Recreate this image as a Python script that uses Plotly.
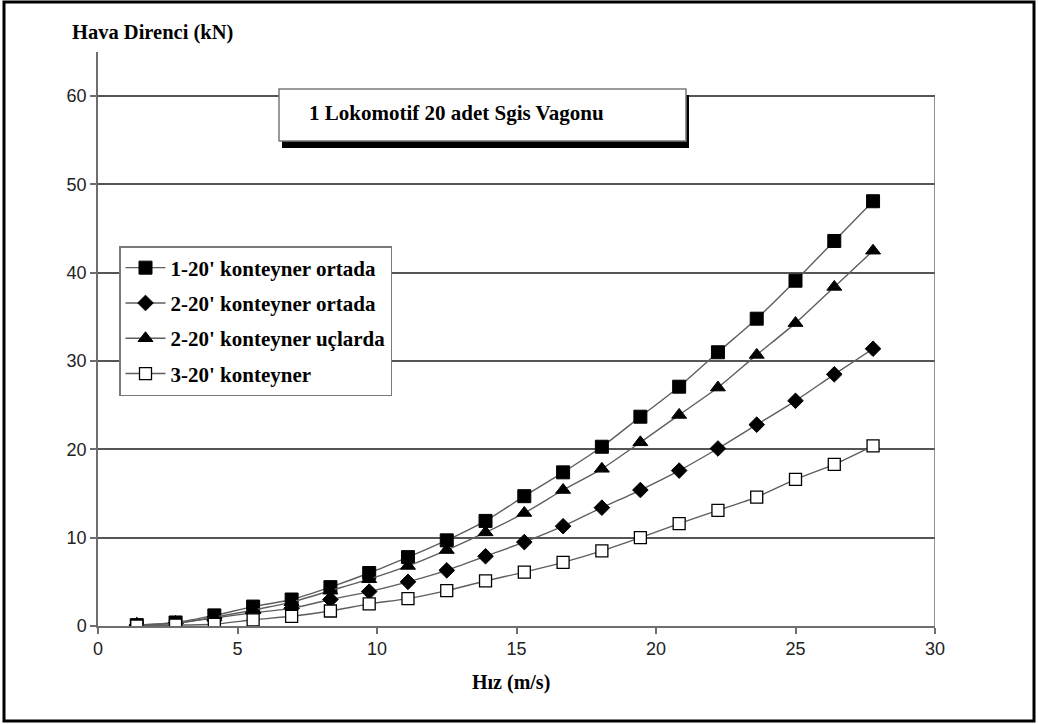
import plotly.graph_objects as go

# Speed in m/s (5 ... 100 km/h in 5 km/h steps)
speed = [1.39, 2.78, 4.17, 5.56, 6.94, 8.33, 9.72, 11.11, 12.50, 13.89,
         15.28, 16.67, 18.06, 19.44, 20.83, 22.22, 23.61, 25.00, 26.39, 27.78]

# Aerodynamic resistance (kN) per loading configuration
one_mid = [0.1, 0.4, 1.2, 2.2, 3.0, 4.4, 6.0, 7.8, 9.7, 11.9,
           14.7, 17.4, 20.3, 23.7, 27.1, 31.0, 34.8, 39.1, 43.6, 48.1]
two_mid = [0.1, 0.3, 0.9, 1.5, 2.0, 3.0, 3.9, 5.0, 6.3, 7.9,
           9.5, 11.3, 13.4, 15.4, 17.6, 20.1, 22.8, 25.5, 28.5, 31.4]
two_ends = [0.1, 0.3, 1.0, 1.8, 2.7, 4.0, 5.3, 6.8, 8.6, 10.6,
            12.8, 15.4, 17.8, 20.8, 23.9, 27.0, 30.7, 34.3, 38.4, 42.5]
three = [0.0, 0.1, 0.2, 0.7, 1.1, 1.7, 2.5, 3.1, 4.0, 5.1,
         6.1, 7.2, 8.5, 10.0, 11.6, 13.1, 14.6, 16.6, 18.3, 20.4]

series_names = ["1-20' konteyner ortada", "2-20' konteyner ortada",
                "2-20' konteyner uçlarda", "3-20' konteyner"]

x_ticks = [0, 5, 10, 15, 20, 25, 30]
y_ticks = [0, 10, 20, 30, 40, 50, 60]

W, H = 1038, 724
L, R, T, B = 98, 103, 52, 98
PW, PH = W - L - R, H - T - B

def px(xp):
    return (xp - L) / PW

def py(yp):
    return (H - B - yp) / PH

SERIF = "Liberation Serif, Times New Roman, serif"
SANS = "Liberation Sans, Arial, sans-serif"
LINE = dict(color="#5e5e5e", width=1.4, shape="spline", smoothing=0.6)

fig = go.Figure()
styles = [
    (one_mid, dict(symbol="square", size=13, color="black",
                   line=dict(color="black", width=1))),
    (two_mid, dict(symbol="diamond", size=12, color="black",
                   line=dict(color="black", width=1))),
    (two_ends, dict(symbol="triangle-up", size=13, color="black",
                    line=dict(color="black", width=1))),
    (three, dict(symbol="square", size=12, color="white",
                 line=dict(color="black", width=1.3))),
]
for i, ((vals, mk), name) in enumerate(zip(styles, series_names)):
    fig.add_trace(go.Scatter(x=speed, y=vals, mode="lines+markers", name=name,
                             line=LINE, marker=mk, legendgroup=f"g{i}"))

axis_common = dict(showline=True, linecolor="#6e6e6e", linewidth=1.5,
                   ticks="outside", ticklen=6, tickcolor="#6e6e6e", tickwidth=1.5,
                   tickfont=dict(family=SANS, size=18, color="#222"))

fig.update_xaxes(range=[0, 30], tickvals=x_ticks, showgrid=False,
                 zeroline=False, **axis_common)
fig.update_yaxes(range=[0, 65], tickvals=y_ticks, showgrid=True,
                 gridcolor="#555555", gridwidth=1.5, zeroline=False,
                 **axis_common)

shapes = [
    # right edge of the plot area
    dict(type="line", xref="x", yref="y", x0=30, x1=30, y0=0, y1=60,
         line=dict(color="#6e6e6e", width=1.5)),
    # title box shadow and box
    dict(type="rect", xref="paper", yref="paper",
         x0=px(282), x1=px(689), y0=py(148), y1=py(95),
         fillcolor="black", line=dict(width=0)),
    dict(type="rect", xref="paper", yref="paper",
         x0=px(279), x1=px(686), y0=py(141), y1=py(89),
         fillcolor="white", line=dict(color="#7a7a7a", width=1.5)),
    # outer frame
    dict(type="rect", xref="paper", yref="paper",
         x0=px(4), x1=px(1034), y0=py(721), y1=py(2),
         fillcolor="rgba(0,0,0,0)", line=dict(color="black", width=3)),
]

annotations = [
    dict(text="1 Lokomotif 20 adet Sgis Vagonu", xref="paper", yref="paper",
         x=px(307), y=py(113), xanchor="left", yanchor="middle", showarrow=False,
         font=dict(family=SERIF, size=21, color="black", weight="bold")),
    dict(text="Hava Direnci (kN)", xref="paper", yref="paper",
         x=px(70), y=py(33), xanchor="left", yanchor="middle", showarrow=False,
         font=dict(family=SERIF, size=20.5, color="black", weight="bold")),
    dict(text="Hız (m/s)", xref="paper", yref="paper",
         x=px(511), y=py(682), xanchor="center", yanchor="middle", showarrow=False,
         font=dict(family=SERIF, size=20, color="black", weight="bold")),
]

fig.update_layout(
    width=W, height=H,
    margin=dict(l=L, r=R, t=T, b=B),
    paper_bgcolor="white", plot_bgcolor="white",
    shapes=shapes, annotations=annotations,
    showlegend=True,
    legend=dict(x=px(119), y=py(246), xanchor="left", yanchor="top",
                bgcolor="white", bordercolor="#7a7a7a", borderwidth=1.5,
                font=dict(family=SERIF, size=21, color="black", weight="bold"),
                tracegroupgap=5, itemwidth=40),
)

fig.write_html("out.html")
